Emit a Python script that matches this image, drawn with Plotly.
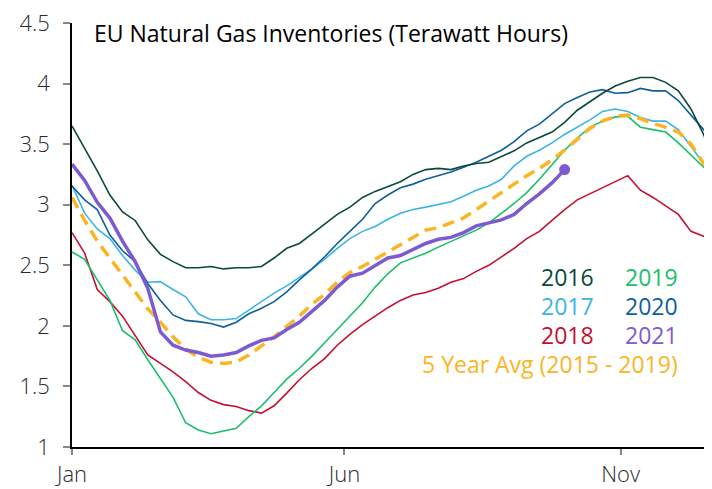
import pandas as pd
import plotly.graph_objects as go

weeks = pd.date_range("2021-01-01", periods=52, freq="7D")

y2016 = [3.65, 3.47, 3.28, 3.08, 2.94, 2.87, 2.71, 2.59, 2.53, 2.48, 2.48, 2.49, 2.47, 2.48, 2.48, 2.49,
         2.56, 2.64, 2.68, 2.76, 2.84, 2.92, 2.98, 3.06, 3.11, 3.15, 3.19, 3.25, 3.29, 3.30, 3.29, 3.32,
         3.34, 3.35, 3.40, 3.445, 3.51, 3.555, 3.60, 3.68, 3.78, 3.85, 3.92, 3.98, 4.02, 4.05, 4.05, 4.01,
         3.94, 3.79, 3.58, 3.32]
y2017 = [3.16, 2.93, 2.80, 2.72, 2.58, 2.46, 2.36, 2.365, 2.30, 2.24, 2.10, 2.05, 2.05, 2.06, 2.13, 2.20,
         2.27, 2.33, 2.40, 2.47, 2.55, 2.64, 2.72, 2.78, 2.82, 2.88, 2.93, 2.96, 2.98, 3.00, 3.025, 3.07,
         3.12, 3.155, 3.21, 3.32, 3.40, 3.45, 3.51, 3.58, 3.64, 3.70, 3.77, 3.79, 3.77, 3.72, 3.69, 3.69,
         3.62, 3.48, 3.34, 3.16]
y2018 = [2.77, 2.60, 2.30, 2.20, 2.08, 1.92, 1.76, 1.69, 1.62, 1.54, 1.45, 1.385, 1.35, 1.335, 1.30, 1.28,
         1.34, 1.445, 1.555, 1.65, 1.73, 1.84, 1.93, 2.01, 2.08, 2.15, 2.21, 2.255, 2.275, 2.31, 2.36, 2.39,
         2.45, 2.50, 2.57, 2.64, 2.72, 2.78, 2.87, 2.96, 3.04, 3.09, 3.14, 3.19, 3.24, 3.12, 3.06, 2.99,
         2.92, 2.78, 2.74, 2.71]
y2019 = [2.61, 2.55, 2.38, 2.21, 1.96, 1.885, 1.72, 1.56, 1.41, 1.20, 1.14, 1.11, 1.13, 1.155, 1.25, 1.34,
         1.45, 1.56, 1.65, 1.75, 1.86, 1.97, 2.08, 2.19, 2.32, 2.43, 2.52, 2.56, 2.60, 2.65, 2.695, 2.74,
         2.79, 2.85, 2.93, 3.01, 3.10, 3.21, 3.33, 3.45, 3.55, 3.64, 3.69, 3.725, 3.73, 3.64, 3.62, 3.60,
         3.51, 3.41, 3.31, 3.27]
y2020 = [3.155, 3.04, 2.96, 2.75, 2.62, 2.53, 2.35, 2.21, 2.09, 2.045, 2.035, 2.02, 1.99, 2.03, 2.10, 2.145,
         2.20, 2.28, 2.38, 2.47, 2.57, 2.68, 2.78, 2.88, 3.01, 3.08, 3.14, 3.17, 3.21, 3.24, 3.27, 3.31,
         3.35, 3.40, 3.45, 3.52, 3.61, 3.665, 3.75, 3.835, 3.885, 3.93, 3.95, 3.92, 3.925, 3.96, 3.94, 3.94,
         3.86, 3.74, 3.62, 3.48]
y2021 = [3.335, 3.20, 3.02, 2.89, 2.70, 2.53, 2.31, 1.95, 1.84, 1.80, 1.78, 1.75, 1.76, 1.78, 1.835, 1.88,
         1.90, 1.97, 2.03, 2.12, 2.21, 2.32, 2.41, 2.435, 2.50, 2.56, 2.58, 2.63, 2.68, 2.715, 2.73, 2.77,
         2.825, 2.85, 2.875, 2.92, 3.01, 3.09, 3.18, 3.29]
avg5 = [3.06, 2.87, 2.70, 2.56, 2.42, 2.28, 2.14, 2.03, 1.91, 1.81, 1.74, 1.70, 1.69, 1.70, 1.76, 1.835,
        1.91, 1.995, 2.08, 2.18, 2.26, 2.36, 2.44, 2.49, 2.55, 2.61, 2.67, 2.735, 2.79, 2.81, 2.85, 2.89,
        2.96, 3.03, 3.10, 3.175, 3.24, 3.30, 3.37, 3.45, 3.54, 3.63, 3.69, 3.73, 3.74, 3.71, 3.67, 3.64,
        3.60, 3.50, 3.34, 3.24]

x_tick_vals = ["2021-01-01", "2021-06-01", "2021-11-01"]
x_tick_text = ["Jan", "Jun", "Nov"]
y_tick_vals = [1, 1.5, 2, 2.5, 3, 3.5, 4, 4.5]

C2016 = "#0b4a3b"
C2017 = "#3cb4e6"
C2018 = "#c5102f"
C2019 = "#19bf6a"
C2020 = "#0e5f9c"
C2021 = "#7c5bd2"
CAVG = "#fbb424"

FONT = "Open Sans"

W, H = 704, 481
ML, MR, MT, MB = 64, 0, 15, 42
OFF = 8  # page body margin

fig = go.Figure()
for ys, col in [(y2018, C2018), (y2019, C2019), (y2017, C2017), (y2020, C2020), (y2016, C2016)]:
    fig.add_trace(go.Scatter(x=weeks[:len(ys)], y=ys, mode="lines",
                             line=dict(color=col, width=1.6), hoverinfo="skip"))
fig.add_trace(go.Scatter(x=weeks[:len(avg5)], y=avg5, mode="lines",
                         line=dict(color=CAVG, width=3.5, dash="12px,7px"), hoverinfo="skip"))
fig.add_trace(go.Scatter(x=weeks[:len(y2021)], y=y2021, mode="lines",
                         line=dict(color=C2021, width=3.5), hoverinfo="skip"))
fig.add_trace(go.Scatter(x=[weeks[len(y2021) - 1]], y=[y2021[-1]], mode="markers",
                         marker=dict(color=C2021, size=11), hoverinfo="skip"))

ytickfont = dict(family=FONT, size=22, color="#2a2a2a", weight=300)
xtickfont = dict(family=FONT, size=22, color="#2a2a2a", weight=300)
fig.update_layout(
    width=W, height=H,
    margin=dict(l=ML, r=MR, t=MT, b=MB, autoexpand=False),
    paper_bgcolor="white", plot_bgcolor="white",
    showlegend=False,
    font=dict(family=FONT, size=20, color="#222222"),
    xaxis=dict(range=["2021-01-01", "2021-12-21 16:00"], tickmode="array",
               tickvals=x_tick_vals, ticktext=x_tick_text,
               showgrid=False, zeroline=False, showline=True, linecolor="black", linewidth=1.5,
               ticks="outside", ticklen=6, tickcolor="#888888", tickwidth=1.5,
               ticklabelstandoff=1, ticklabeloverflow="allow", tickfont=xtickfont),
    yaxis=dict(range=[1, 4.5], tickmode="array", tickvals=y_tick_vals,
               showgrid=False, zeroline=False, showline=True, linecolor="black", linewidth=1.5,
               ticks="outside", ticklen=7, tickcolor="#888888", tickwidth=1.5,
               ticklabelstandoff=9, ticklabeloverflow="allow", tickfont=ytickfont),
)

plot_w = W - ML - MR
plot_h = H - MT - MB


def px_to_paper(xs, ys):
    return (xs - OFF - ML) / plot_w, (H - MB - (ys - OFF)) / plot_h


tx, ty = px_to_paper(92, 33)
fig.add_annotation(x=tx, y=ty, xref="paper", yref="paper",
                   text="EU Natural Gas Inventories (Terawatt Hours)",
                   showarrow=False, xanchor="left", yanchor="middle",
                   font=dict(family=FONT, size=23, color="black", weight=500))

legend_rows = [("2016", C2016, 596, 277), ("2019", C2019, 680, 277),
               ("2017", C2017, 596, 306), ("2020", C2020, 680, 306),
               ("2018", C2018, 596, 335), ("2021", C2021, 680, 335),
               ("5 Year Avg (2015 - 2019)", CAVG, 680, 364)]
for txt, col, sx, sy in legend_rows:
    ax, ay = px_to_paper(sx, sy)
    fig.add_annotation(x=ax, y=ay, xref="paper", yref="paper", text=txt, showarrow=False,
                       xanchor="right", yanchor="middle",
                       font=dict(family=FONT, size=23, color=col))

fig.write_html("out.html")
